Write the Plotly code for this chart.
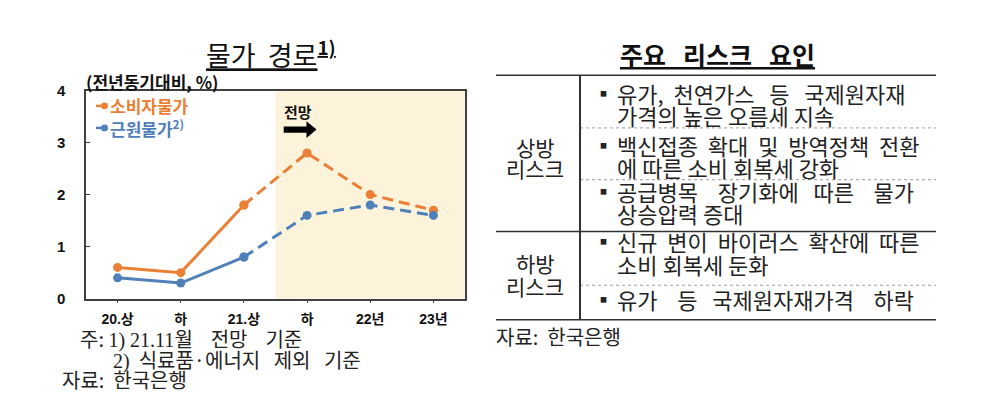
import plotly.graph_objects as go

# ── Data ──────────────────────────────────────────────────────────────────────
periods = ["20.상", "하", "21.상", "하", "22년", "23년"]
cpi = [0.6, 0.5, 1.8, 2.8, 2.0, 1.7]        # 소비자물가
core = [0.4, 0.3, 0.8, 1.6, 1.8, 1.6]       # 근원물가
n_actual = 3                                 # 20.상 ~ 21.상 실적, 이후 전망
y_ticks = [0, 1, 2, 3, 4]

risk_up = [
    ["유가,  천연가스   등   국제원자재", "가격의 높은 오름세 지속"],
    ["백신접종  확대  및  방역정책  전환", "에 따른 소비 회복세 강화"],
    ["공급병목    장기화에   따른    물가", "상승압력 증대"],
]
risk_down = [
    ["신규  변이  바이러스  확산에  따른", "소비 회복세 둔화"],
    ["유가    등   국제원자재가격    하락"],
]

ORANGE = "#EA7F36"
BLUE = "#4F80B9"
SHADE = "#FDF3DB"
W, H = 990, 416
KR = "Noto Sans CJK KR"
SERIF = "<span style='font-family:Liberation Serif'>{}</span>"


def px(x):
    return x / W


def py(y):
    return 1 - y / H


fig = go.Figure()

# 전망 구간 음영
fig.add_vrect(x0=n_actual - 0.5, x1=len(periods) - 0.5, fillcolor=SHADE,
              line_width=0, layer="below")

xs = list(range(len(periods)))
for vals, color in [(cpi, ORANGE), (core, BLUE)]:
    fig.add_trace(go.Scatter(
        x=xs[:n_actual], y=vals[:n_actual], mode="lines+markers",
        line=dict(color=color, width=3), marker=dict(color=color, size=9),
        showlegend=False, hoverinfo="skip"))
    fig.add_trace(go.Scatter(
        x=xs[n_actual - 1:], y=vals[n_actual - 1:], mode="lines+markers",
        line=dict(color=color, width=3, dash="11px,6px"),
        marker=dict(color=color, size=9),
        showlegend=False, hoverinfo="skip"))

# 전망 화살표
fig.add_shape(type="path", xref="x", yref="y",
              path="M2.63,3.19 L2.99,3.19 L2.99,3.09 L3.15,3.25 L2.99,3.41 L2.99,3.31 L2.63,3.31 Z",
              fillcolor="black", line_width=0)

ann = []


def text(x, y, s, size, color="#222", anchor="left"):
    ann.append(dict(x=px(x), y=py(y), xref="paper", yref="paper", text=s,
                    showarrow=False, xanchor=anchor, yanchor="middle",
                    align=anchor, font=dict(size=size, color=color, family=KR)))


# 왼쪽 패널 텍스트
text(271, 46, "<u>물가  경로<sup><b>1)</b></sup></u>", 27, "#111", anchor="center")
text(84, 76, "<b>(전년동기대비, %)</b>", 17, "#111")
text(298, 107, "<b>전망</b>", 15, "#111", anchor="center")
text(108, 101, "<b>소비자물가</b>", 17, ORANGE)
text(108, 124, "<b>근원물가<sup>2)</sup></b>", 17, BLUE)
text(78, 344, "주: " + SERIF.format("1) 21.11") + "월    전망    기준", 20, "#222")
text(111, 365, SERIF.format("2)") + "  식료품·에너지   제외   기준", 20, "#222")
text(60, 386, "자료:  한국은행", 20, "#222")

# 범례 기호
shapes = []
for yy, c in [(101, ORANGE), (124, BLUE)]:
    shapes.append(dict(type="line", xref="paper", yref="paper",
                       x0=px(96), x1=px(104), y0=py(yy), y1=py(yy),
                       line=dict(color=c, width=2.5)))
    shapes.append(dict(type="circle", xref="paper", yref="paper",
                       x0=px(101), x1=px(108), y0=py(yy - 3.5), y1=py(yy + 3.5),
                       fillcolor=c, line_width=0))

# 오른쪽 표
text(717, 47, "<b><u>주요   리스크   요인</u></b>", 25, "#111", anchor="center")

TL, TR, VX = 496, 936, 580
line_dark = dict(color="#333", width=1.6)
line_dot = dict(color="#999", width=1, dash="dot")
for yy in [69, 232, 324]:
    shapes.append(dict(type="line", xref="paper", yref="paper",
                       x0=px(TL), x1=px(TR), y0=py(yy), y1=py(yy), line=line_dark))
for yy in [124, 178, 288]:
    shapes.append(dict(type="line", xref="paper", yref="paper",
                       x0=px(VX), x1=px(TR), y0=py(yy), y1=py(yy), line=line_dot))
shapes.append(dict(type="line", xref="paper", yref="paper",
                   x0=px(VX), x1=px(VX), y0=py(69), y1=py(324),
                   line=dict(color="#333", width=2)))

row_y = [[88, 110], [142, 165], [190, 213], [242, 266], [302]]
for item, ys in zip(risk_up + risk_down, row_y):
    text(598, ys[0], "■", 7, "#222")
    for ln, yy in zip(item, ys):
        text(615, yy, ln, 22, "#222")

text(535, 144, "상방", 21, "#222", anchor="center")
text(535, 166, "리스크", 21, "#222", anchor="center")
text(535, 265, "하방", 21, "#222", anchor="center")
text(535, 289, "리스크", 21, "#222", anchor="center")
text(494, 341, "자료:  한국은행", 20, "#222")

fig.update_layout(
    width=W, height=H,
    margin=dict(l=0, r=0, t=0, b=0),
    paper_bgcolor="white", plot_bgcolor="white",
    annotations=ann, shapes=fig.layout.shapes + tuple(shapes),
    xaxis=dict(domain=[px(86), px(465)], range=[-0.5, len(periods) - 0.5],
               tickmode="array", tickvals=xs,
               ticktext=[f"<b>{p}</b>" for p in periods],
               showgrid=False, zeroline=False, showline=True, mirror=True,
               linecolor="#404040", linewidth=1.5,
               ticks="outside", ticklen=3, tickcolor="#404040",
               ticklabelstandoff=4,
               tickfont=dict(size=14, color="#111", family="Liberation Sans, " + KR)),
    yaxis=dict(domain=[py(302), py(85)], range=[0, 4],
               tickmode="array", tickvals=y_ticks,
               ticktext=[f"<b>{v}</b>" for v in y_ticks],
               showgrid=False, zeroline=False, showline=True, mirror=True,
               linecolor="#404040", linewidth=1.5,
               ticks="inside", ticklen=4, tickcolor="#404040",
               ticklabelstandoff=16,
               tickfont=dict(size=15, color="#111", family="Liberation Sans")),
)

fig.write_html("out.html", config={"displayModeBar": False},
               post_script="document.body.style.margin='0';")
